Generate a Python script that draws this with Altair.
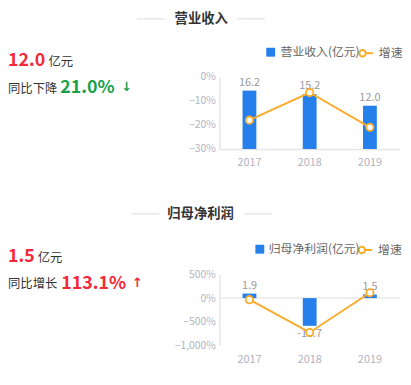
import altair as alt
import pandas as pd

# ---------------- data ----------------
years = ["2017", "2018", "2019"]

rev_values = [16.2, 15.2, 12.0]
rev_growth = [-18.0, -6.5, -21.0]

profit_values = [1.9, -11.7, 1.5]
profit_growth = [-33.0, -725.0, 113.1]

section_titles = ["营业收入", "归母净利润"]
bar_series = ["营业收入(亿元)", "归母净利润(亿元)"]
growth_series = "增速"
headline_values = ["12.0", "1.5"]
headline_unit = "亿元"
change_words = ["同比下降", "同比增长"]
change_values = ["21.0%", "113.1%"]
change_arrows = ["↓", "↑"]

rev_ticks = [0, -10, -20, -30]
profit_ticks = [500, 0, -500, -1000]

# ---------------- style ----------------
FONT = "Noto Sans CJK SC"
BLUE = "#2680eb"
ORANGE = "#fbab2a"
RED = "#f5283a"
GREEN = "#17a24a"
AXIS_LABEL = "#b0b3bf"
LINE_GRAY = "#e6e6e6"
W = 183
LEFT = -214


def txt(text, x, y, size, color, weight="normal", align="left", baseline="alphabetic", font=FONT):
    return alt.Chart(pd.DataFrame({"t": [text]})).mark_text(
        align=align, baseline=baseline, font=font, fontSize=size,
        fontWeight=weight, color=color
    ).encode(text="t:N", x=alt.value(x), y=alt.value(y))


def hline(x1, x2, y, color="#dcdcdc", width=1):
    return alt.Chart(pd.DataFrame({"a": [0]})).mark_rule(
        color=color, strokeWidth=width
    ).encode(x=alt.value(x1), x2=alt.value(x2), y=alt.value(y))


def ring(x, y):
    return alt.Chart(pd.DataFrame({"a": [0]})).mark_point(
        shape="circle", filled=True, fill="white", stroke=ORANGE,
        strokeWidth=2, size=42, opacity=1
    ).encode(x=alt.value(x), y=alt.value(y))


def section(i, values, growth, bar_domain, g_domain, g_ticks, H, zero_line,
            title_x, title_y, tl, tr, big_y, unit_x, unit_y, word_y,
            chg_x, chg_y, arrow_x, arrow_y, chg_color, leg_bar_x, leg_bar_off,
            leg_bar_y, ring_x, leg_y):
    df = pd.DataFrame({
        "year": years,
        "value": values,
        "growth": growth,
        "label": [f"{v:.1f}" for v in values],
        "series": bar_series[i],
    })
    x = alt.X("year:N", sort=years,
              scale=alt.Scale(paddingInner=0, paddingOuter=0),
              axis=alt.Axis(title=None, labelAngle=0, ticks=False,
                            domain=not zero_line, domainColor=LINE_GRAY,
                            domainWidth=1.5,
                            labelColor=AXIS_LABEL, labelFont=FONT,
                            labelFontSize=11, labelPadding=8))
    base = alt.Chart(df)
    ybar = alt.Y("value:Q", scale=alt.Scale(domain=bar_domain, nice=False, zero=False), axis=None)

    bars = base.mark_bar(size=14).encode(
        x=x, y=ybar,
        fill=alt.Fill("series:N", scale=alt.Scale(range=[BLUE]),
                      legend=alt.Legend(title=None, orient="none", legendX=leg_bar_x,
                                        legendY=leg_bar_y, symbolType="square",
                                        symbolSize=81, symbolStrokeWidth=0,
                                        labelFont=FONT, labelFontSize=12,
                                        labelColor="#666", labelOffset=leg_bar_off,
                                        padding=0)),
    )
    lab_pos = base.transform_filter("datum.value >= 0").mark_text(
        baseline="bottom", dy=-3, font=FONT, fontSize=11, color="#999"
    ).encode(x=x, y=ybar, text="label:N")
    lab_neg = base.transform_filter("datum.value < 0").mark_text(
        baseline="top", dy=2, font=FONT, fontSize=11, color="#999"
    ).encode(x=x, y=ybar, text="label:N")

    yg_scale = alt.Scale(domain=g_domain, nice=False, zero=False)
    yg = alt.Y("growth:Q", scale=yg_scale,
               axis=alt.Axis(title=None, orient="left", values=g_ticks,
                             labelExpr="format(datum.value, ',') + '%'",
                             grid=False, ticks=False, domain=True,
                             domainColor=LINE_GRAY, domainWidth=1.5,
                             labelColor=AXIS_LABEL, labelFont=FONT,
                             labelFontSize=10.5, labelPadding=4))
    line = base.mark_line(strokeWidth=2, color=ORANGE).encode(x=x, y=yg)
    pts = base.mark_point(filled=True, fill="white", stroke=ORANGE,
                          strokeWidth=1.8, size=55, opacity=1).encode(
        x=x, y=alt.Y("growth:Q", scale=yg_scale, axis=None))

    layers = [bars, lab_pos, lab_neg]
    if zero_line:
        zl = alt.Chart(pd.DataFrame({"z": [0]})).mark_rule(
            color="#eeeeee", strokeWidth=2
        ).encode(y=alt.Y("z:Q", scale=yg_scale, axis=None),
                 x=alt.value(0), x2=alt.value(W))
        layers = [zl] + layers
    layers += [line, pts]

    deco = [
        txt(section_titles[i], title_x, title_y, 13.5, "#333", "bold", "center", "middle"),
        hline(tl[0], tl[1], title_y),
        hline(tr[0], tr[1], title_y),
        txt(headline_values[i], LEFT, big_y, 18, RED, "bold"),
        txt(headline_unit, unit_x, unit_y, 12.5, "#333"),
        txt(change_words[i], LEFT, word_y, 12.5, "#333"),
        txt(change_values[i], chg_x, chg_y, 18, chg_color, "bold"),
        txt(change_arrows[i], arrow_x, arrow_y, 13, chg_color, "bold", "center", "middle",
            font="DejaVu Sans"),
        # growth-series legend item: ring + short line + label
        hline(ring_x + 3.5, ring_x + 10.5, leg_y, ORANGE, 2),
        ring(ring_x, leg_y),
        txt(growth_series, ring_x + 16.5, leg_y, 12, "#666", "normal", "left", "middle"),
    ]
    return alt.layer(*layers, *deco).resolve_scale(
        y="independent", fill="independent"
    ).properties(width=W, height=H)


top = section(0, rev_values, rev_growth, [0, 20], [-30, 0], rev_ticks, 73, False,
              title_x=-18.3, title_y=-58.75, tl=(-83.7, -55.3), tr=(18, 46.3),
              big_y=-10.7, unit_x=-173, unit_y=-11.5, word_y=16.5,
              chg_x=-161, chg_y=16.5, arrow_x=-94, arrow_y=10, chg_color=GREEN,
              leg_bar_x=46, leg_bar_off=4, leg_bar_y=-31, ring_x=145, leg_y=-24)

bottom = section(1, profit_values, profit_growth, [-20, 10], [-1000, 500], profit_ticks, 72, True,
                 title_x=-19, title_y=-61.3, tl=(-89, -61), tr=(25, 54),
                 big_y=-13, unit_x=-184, unit_y=-13, word_y=14,
                 chg_x=-160, chg_y=15, arrow_x=-83, arrow_y=9, chg_color=RED,
                 leg_bar_x=35, leg_bar_off=3, leg_bar_y=-31.5, ring_x=144.3, leg_y=-24.7)

chart = alt.vconcat(top, bottom, spacing=39).properties(
    padding={"top": 1.5, "left": 0, "right": 0, "bottom": 0}, background="white"
).configure_view(stroke=None)

chart.save("out.html", embed_options={"renderer": "svg", "actions": False})
